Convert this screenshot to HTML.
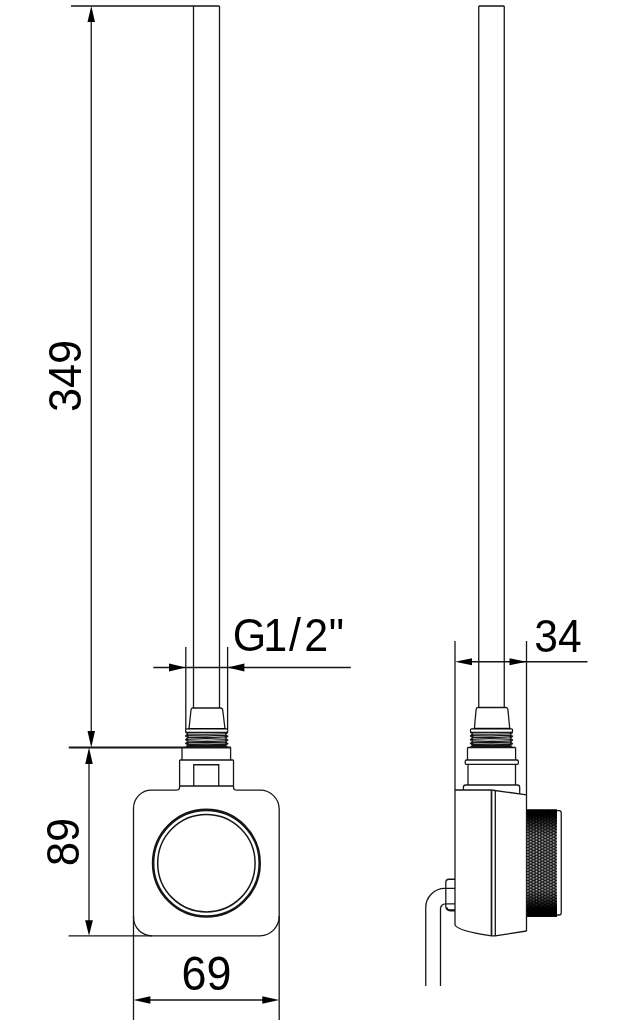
<!DOCTYPE html>
<html><head><meta charset="utf-8">
<style>
html,body{margin:0;padding:0;background:#fff;}
svg{display:block;will-change:transform;}
text{font-family:"Liberation Sans", sans-serif;fill:#000;}
</style></head>
<body>
<svg width="640" height="1024" viewBox="0 0 640 1024">
<defs>
  <pattern id="knurl" width="5.74" height="3.0" patternUnits="userSpaceOnUse" x="526.5" y="809.4">
    <rect width="5.74" height="3.0" fill="#000"/>
    <ellipse cx="1.43" cy="0.75" rx="1.15" ry="0.72" fill="#fff"/>
    <ellipse cx="4.3" cy="2.25" rx="1.15" ry="0.72" fill="#fff"/>
  </pattern>
  <linearGradient id="kfade" x1="0" y1="0" x2="0" y2="1">
    <stop offset="0" stop-color="#000"/>
    <stop offset="0.05" stop-color="#000"/>
    <stop offset="0.25" stop-color="#000" stop-opacity="0.05"/>
    <stop offset="0.75" stop-color="#000" stop-opacity="0.05"/>
    <stop offset="0.92" stop-color="#000"/>
    <stop offset="1" stop-color="#000"/>
  </linearGradient>
</defs>
<rect width="640" height="1024" fill="#fff"/>

<g fill="none" stroke="#151515" stroke-width="1.3">
  <!-- ===== LEFT VIEW ===== -->
  <!-- top extension line -->
  <path d="M71,6 H219.5"/>
  <!-- pipe -->
  <path d="M193.5,6 V708 M219.5,6 V708"/>
  <!-- 349 dimension line -->
  <path d="M91.25,20 V733"/>
  <!-- 89 dimension line -->
  <path d="M89,762 V922"/>
  <!-- horizontal line at 747.5 -->
  <path d="M68.75,747.5 H231" stroke-width="1.9"/>
  <!-- bottom extension line -->
  <path d="M68.6,935.8 H152"/>
  <!-- G1/2 dimension -->
  <path d="M153.3,667.5 H350.8"/>
  <path d="M185.8,647 V729 M227.6,647 V729"/>
  <!-- 69 dimension -->
  <path d="M148,1000 H265"/>
  <path d="M133.5,916 V1020 M279.2,916 V1020"/>
  <!-- nut -->
  <path d="M192.5,708 H220.5 Q222.5,708 222.7,710 L225,728.75 H189 L191,710 Q191.2,708 192.5,708 Z"/>
  <!-- washer -->
  
  <!-- base block -->
  <path d="M182,747.5 V760 M230.6,747.5 V760"/>
  <!-- neck -->
  <path d="M179.6,760 H233.5 M179.6,760 V787 Q179.6,790.2 176,790.2 M233.5,760 V787 Q233.5,790.2 237,790.2 M179.6,786 H233.5"/>
  <!-- window -->
  <path d="M193.75,786 V764.75 H218.75 V786"/>
  <!-- body -->
  <path d="M176,790.2 H152 A18,18 0 0 0 133.5,808.5 V917 A18.5,18.5 0 0 0 152,935.8 H260 A19.5,19.5 0 0 0 279.2,916 V809 A19,19 0 0 0 260,790.2 H237"/>
  <!-- knob circles -->
  <circle cx="206.4" cy="863.2" r="53.3" stroke-width="2.6"/>
  <circle cx="206.4" cy="863.2" r="48.7" stroke-width="1.5"/>

  <!-- ===== RIGHT VIEW ===== -->
  <path d="M478.75,6 H504.25 M478.75,6 V707.5 M504.25,6 V707.5"/>
  <!-- 34 dimension -->
  <path d="M470,661.75 H587.5 M472,661.75 H510"/>
  <path d="M455,641 V925 M526.5,641 V931"/>
  <!-- nut -->
  <path d="M478,707.5 H506 Q507.75,707.5 507.9,709.5 L509.75,728.5 H474.4 L476.1,709.5 Q476.25,707.5 478,707.5 Z"/>
  <!-- washer -->
  
  <!-- block -->
  <path d="M467.5,747.5 H515.6 M467.5,747.5 V760 M515.6,747.5 V760"/>
  <!-- flange -->
  <path d="M466.5,760 H517 Q518.3,760 518.3,761.3 V763.2 Q518.3,764.4 517,764.4 H466.5 Q465.25,764.4 465.25,763.2 V761.3 Q465.25,760 466.5,760 Z"/>
  <!-- lower neck -->
  <path d="M468,764.4 V785 M515.5,764.4 V785"/>
  <!-- base plate -->
  <path d="M465.5,785 H517.5 Q519.7,785 519.7,787.5 V793.8 M465.5,785 Q463.4,785 463.4,787.5 V790"/>
  <!-- body top -->
  <path d="M455,790 H491.3 L526.5,794.8"/>
  <!-- split lines -->
  <path d="M491.5,790.5 V936" stroke-width="1.7"/><path d="M495.3,791 V936"/>
  <!-- body bottom -->
  <path d="M455,925 Q458,931 491.5,935.8 H495.3 L526.5,931"/>
  <!-- knob cap -->
  <path d="M557,810.6 H559 Q561.25,810.6 561.25,813 V912.8 Q561.25,915 559,915 H557"/>
  <!-- cable gland -->
  <path d="M455,879.25 H449 Q445.8,879.25 445.8,882.5 V906.5 Q445.8,909.8 449,909.8 H455 M445.8,888.4 H455 M445.8,903.8 H455"/>
  <!-- cable -->
  <path d="M445.8,888.4 H445 A19.2,19.2 0 0 0 425.75,907.6 V986"/>
  <path d="M445.8,903.8 H445.5 A5,5 0 0 0 440.5,908.8 V986"/>
  <path d="M446.8,907.5 Q447.2,910.4 450,910.6 H455" stroke-width="1.8"/>
</g>

<!-- arrows -->
<g fill="#000" stroke="none">
  <!-- 349 -->
  <path d="M91.25,6 L95,22 L87.5,22 Z"/>
  <path d="M91.25,747.5 L95,731 L87.5,731 Z"/>
  <!-- 89 -->
  <path d="M89,747.5 L92.75,764 L85.25,764 Z"/>
  <path d="M89,935.8 L92.9,920.3 L85.1,920.3 Z"/>
  <!-- G1/2 -->
  <path d="M185.8,667.5 L169,663.6 L169,671.4 Z"/>
  <path d="M227.6,667.5 L244.4,663.6 L244.4,671.4 Z"/>
  <!-- 69 -->
  <path d="M133.5,1000 L150.4,996.2 L150.4,1003.8 Z"/>
  <path d="M279.2,1000 L262.3,996.2 L262.3,1003.8 Z"/>
  <!-- 34 -->
  <path d="M455,661.75 L472,658.2 L472,665.3 Z"/>
  <path d="M526.5,661.75 L509.5,658.2 L509.5,665.3 Z"/>
</g>

<!-- threads -->
<g transform="translate(206.7,0)">
  <path d="M-21.5,732.5 L-19.2,733.8 L-21.6,736 L-19.2,737.6 L-21.6,739.7 L-19.2,741.3 L-21.6,743.4 L-19.2,745 L-21.2,747.3 L21.2,747.3 L19.2,745.4 L21.6,743.6 L19.2,742 L21.6,740 L19.2,738.3 L21.6,736.3 L19.2,734.5 L21.5,732.5 Z" fill="#141414" stroke="#111" stroke-width="0.8" stroke-linejoin="round"/>
  <path d="M-18.5,733.9 Q0,733.4 18.5,734.2" stroke="#fff" stroke-width="1" fill="none" opacity="0.85"/>
  <path d="M-18,736.4 Q0,735.2 18,737.2" stroke="#fff" stroke-width="0.9" fill="none" opacity="0.8"/>
  <path d="M-18.5,738.7 Q-2,740.3 18.5,738.7" stroke="#fff" stroke-width="0.9" fill="none" opacity="0.85"/>
  <path d="M-18.5,741 Q2,739.6 18.5,741" stroke="#fff" stroke-width="0.9" fill="none" opacity="0.8"/>
  <path d="M-18,743.3 Q0,744.5 18.5,743.1" stroke="#fff" stroke-width="0.8" fill="none" opacity="0.7"/>
  <rect x="-21.2" y="728.9" width="42.4" height="3.3" rx="1.6" fill="#fff" stroke="#000" stroke-width="1.1"/>
</g>
<g transform="translate(491.5,0)">
  <path d="M-21.5,732.5 L-19.2,733.8 L-21.6,736 L-19.2,737.6 L-21.6,739.7 L-19.2,741.3 L-21.6,743.4 L-19.2,745 L-21.2,747.3 L21.2,747.3 L19.2,745.4 L21.6,743.6 L19.2,742 L21.6,740 L19.2,738.3 L21.6,736.3 L19.2,734.5 L21.5,732.5 Z" fill="#141414" stroke="#111" stroke-width="0.8" stroke-linejoin="round"/>
  <path d="M-18.5,733.9 Q0,733.4 18.5,734.2" stroke="#fff" stroke-width="1" fill="none" opacity="0.85"/>
  <path d="M-18,736.4 Q0,735.2 18,737.2" stroke="#fff" stroke-width="0.9" fill="none" opacity="0.8"/>
  <path d="M-18.5,738.7 Q-2,740.3 18.5,738.7" stroke="#fff" stroke-width="0.9" fill="none" opacity="0.85"/>
  <path d="M-18.5,741 Q2,739.6 18.5,741" stroke="#fff" stroke-width="0.9" fill="none" opacity="0.8"/>
  <path d="M-18,743.3 Q0,744.5 18.5,743.1" stroke="#fff" stroke-width="0.8" fill="none" opacity="0.7"/>
  <rect x="-21.2" y="728.9" width="42.4" height="3.3" rx="1.6" fill="#fff" stroke="#000" stroke-width="1.1"/>
</g>

<!-- knurled knob -->
<rect x="526.5" y="809.4" width="30.5" height="107.5" fill="url(#knurl)"/>
<rect x="526.5" y="809.4" width="30.5" height="107.5" fill="url(#kfade)"/>

<!-- texts -->
<text transform="translate(81,376) rotate(-90) scale(0.93,1)" font-size="46.5" text-anchor="middle">349</text>
<text transform="translate(79,842) rotate(-90) scale(0.93,1)" font-size="46.5" text-anchor="middle">89</text>
<text transform="translate(206.5,990) scale(0.945,1)" font-size="47.5" text-anchor="middle">69</text>
<text transform="translate(558,652) scale(0.93,1)" font-size="45.8" text-anchor="middle">34</text>
<text transform="translate(0,650.8) scale(0.43,0.462)" font-size="100"><tspan x="541.5">G</tspan><tspan x="612.4">1</tspan><tspan x="672">/</tspan><tspan x="707.6">2</tspan><tspan x="764.5">"</tspan></text>
</svg>
</body></html>
